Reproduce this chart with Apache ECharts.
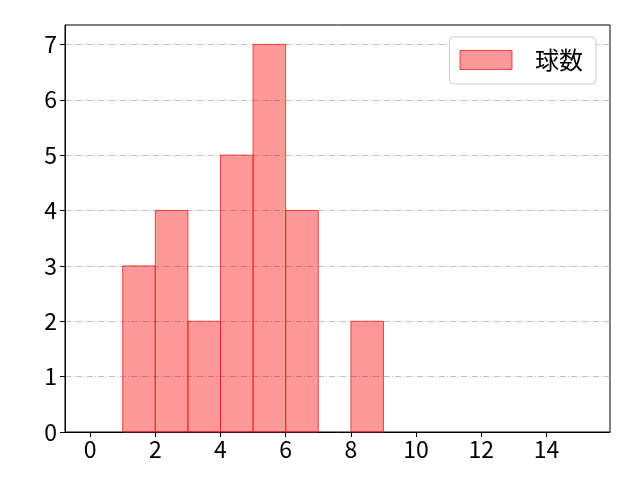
<!DOCTYPE html>
<html><head><meta charset="utf-8">
<script src="https://cdn.jsdelivr.net/npm/echarts@6/dist/echarts.min.js"></script>
<style>html,body{margin:0;padding:0;background:#fff}#c{width:640px;height:480px}</style>
</head><body><div id="c"></div>
<script>
const binStarts = [1, 2, 3, 4, 5, 6, 8];
const binWidth = 1;
const counts = [3, 4, 2, 5, 7, 4, 2];
const xTicks = [0, 2, 4, 6, 8, 10, 12, 14];
const yTicks = [0, 1, 2, 3, 4, 5, 6, 7];
const seriesName = '球数';

const font = '"Noto Sans CJK JP", "DejaVu Sans", sans-serif';
const fill = 'rgba(255,0,0,0.4)';
const edge = 'rgba(240,30,30,0.8)';
const chart = echarts.init(document.getElementById('c'));
const data = binStarts.map((s, i) => [s, s + binWidth, counts[i]]);
chart.setOption({
  animation: false,
  grid: {left: 65, right: 30, top: 25, bottom: 48, show: true, borderColor: '#000', borderWidth: 1, backgroundColor: 'transparent'},
  legend: {
    data: [{name: seriesName, icon: 'rect', itemStyle: {color: fill, borderColor: edge, borderWidth: 1}}],
    right: 44, top: 37, orient: 'vertical',
    itemWidth: 52, itemHeight: 19,
    padding: [11, 13, 12, 10],
    borderColor: '#cccccc', borderWidth: 1, borderRadius: 4, backgroundColor: '#fff',
    textStyle: {fontFamily: font, fontSize: 24, color: '#000', padding: [0, 0, 0, 18]}
  },
  xAxis: {
    type: 'value', min: -0.77, max: 15.95,
    axisLine: {show: true, onZero: false, lineStyle: {color: '#000', width: 1}},
    axisTick: {show: true, length: 5, inside: false, customValues: xTicks, lineStyle: {color: '#000'}},
    axisLabel: {customValues: xTicks, fontFamily: font, fontSize: 23, color: '#000', margin: 6},
    splitLine: {show: false}
  },
  yAxis: {
    type: 'value', min: 0, max: 7.35, interval: 1,
    axisLine: {show: true, onZero: false, lineStyle: {color: '#000', width: 1}},
    axisTick: {show: true, length: 5, customValues: yTicks, lineStyle: {color: '#000'}},
    axisLabel: {customValues: yTicks, fontFamily: font, fontSize: 23, color: '#000', margin: 8},
    splitLine: {show: true, lineStyle: {color: '#b0b0b0', width: 0.8, type: [6, 2, 1, 2]}}
  },
  series: [{
    type: 'custom', name: seriesName,
    itemStyle: {color: fill, borderColor: edge},
    encode: {x: [0, 1], y: 2},
    data: data,
    renderItem: function (params, api) {
      const p0 = api.coord([api.value(0), 0]);
      const p1 = api.coord([api.value(1), api.value(2)]);
      return {
        type: 'rect',
        shape: {x: p0[0], y: p1[1], width: p1[0] - p0[0], height: p0[1] - p1[1]},
        style: {fill: fill, stroke: edge, lineWidth: 1}
      };
    }
  }]
});
</script></body></html>
